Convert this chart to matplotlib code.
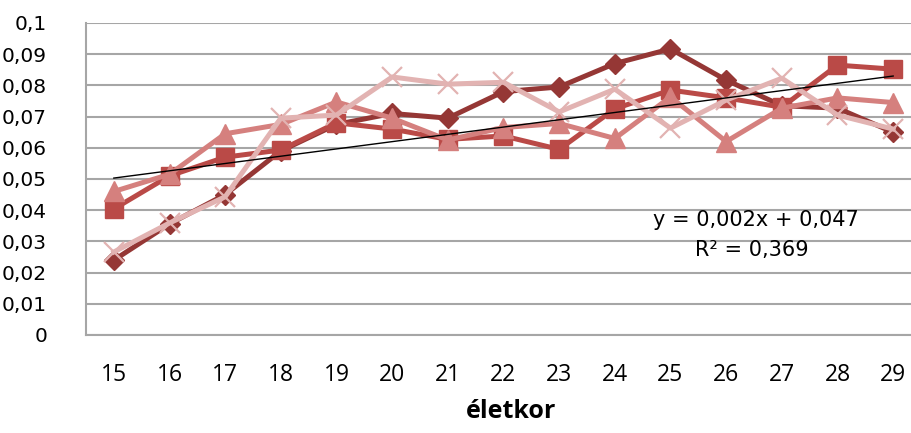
import matplotlib
matplotlib.use("Agg")
import matplotlib.pyplot as plt
import numpy as np

ages = [15, 16, 17, 18, 19, 20, 21, 22, 23, 24, 25, 26, 27, 28, 29]
y_ticks = [0, 0.01, 0.02, 0.03, 0.04, 0.05, 0.06, 0.07, 0.08, 0.09, 0.1]
y_tick_labels = ["0", "0,01", "0,02", "0,03", "0,04", "0,05", "0,06", "0,07", "0,08", "0,09", "0,1"]

s_diamond = [0.024, 0.0356, 0.045, 0.059, 0.0675, 0.071, 0.0695, 0.078, 0.0795, 0.087, 0.0917, 0.0817, 0.0735, 0.0727, 0.065]
s_square = [0.0404, 0.051, 0.057, 0.0593, 0.068, 0.066, 0.0627, 0.0638, 0.0595, 0.0725, 0.0785, 0.076, 0.073, 0.0865, 0.0852]
s_triangle = [0.046, 0.0515, 0.0645, 0.0675, 0.0747, 0.0695, 0.0625, 0.0665, 0.0678, 0.063, 0.0763, 0.062, 0.0727, 0.076, 0.0745]
s_cross = [0.0266, 0.0359, 0.0443, 0.0695, 0.0705, 0.0827, 0.0804, 0.081, 0.0715, 0.0788, 0.0663, 0.0753, 0.0823, 0.0705, 0.066]

trend_slope = 0.002336
trend_intercept = 0.04796
eq_text = "y = 0,002x + 0,047"
r2_text = "R² = 0,369"
x_title = "életkor"

W, H = 911, 433
fig = plt.figure(figsize=(W / 100, H / 100), dpi=100)
ax = fig.add_axes([86 / W, 1 - 335 / H, (921 - 86) / W, (335 - 23) / H])

x = np.arange(len(ages))
grid_c = "#A6A6A6"

ax.plot(x, s_diamond, color="#953735", lw=3.6, marker="D", ms=10.5, zorder=3)
ax.plot(x, s_square, color="#BA4A47", lw=3.6, marker="s", ms=13, zorder=4)
ax.plot(x, s_triangle, color="#D5807E", lw=3.6, marker="^", ms=14, zorder=5)
ax.plot(x, s_cross, color="#E2B3B2", lw=3.6, marker="x", ms=15, mew=1.6, zorder=6)

idx = np.arange(1, len(ages) + 1)
ax.plot(x, trend_intercept + trend_slope * idx, color="black", lw=1.0, zorder=7)

ax.set_xlim(-0.5, len(ages) - 0.5)
ax.set_ylim(0, 0.1)
ax.set_yticks(y_ticks)
ax.set_yticklabels(y_tick_labels, fontsize=14.5, family="DejaVu Sans")
ax.set_xticks(x)
ax.set_xticklabels([str(a) for a in ages], fontsize=16.5, family="Open Sans")
ax.tick_params(axis="y", length=0, pad=28)
ax.tick_params(axis="x", length=0, pad=20)
ax.grid(axis="y", color=grid_c, lw=1.5, zorder=0)
for s in ["top", "right"]:
    ax.spines[s].set_visible(False)
for s in ["left", "bottom"]:
    ax.spines[s].set_color(grid_c)
    ax.spines[s].set_linewidth(1.5)

fig.text(756 / W, 1 - 220 / H, eq_text, ha="center", va="center", fontsize=15, family="DejaVu Sans")
fig.text(752 / W, 1 - 250 / H, r2_text, ha="center", va="center", fontsize=15, family="DejaVu Sans")
fig.text(511 / W, 1 - 412 / H, x_title, ha="center", va="center", fontsize=18, family="Open Sans", fontweight="bold")

fig.savefig("out.png", dpi=100)
